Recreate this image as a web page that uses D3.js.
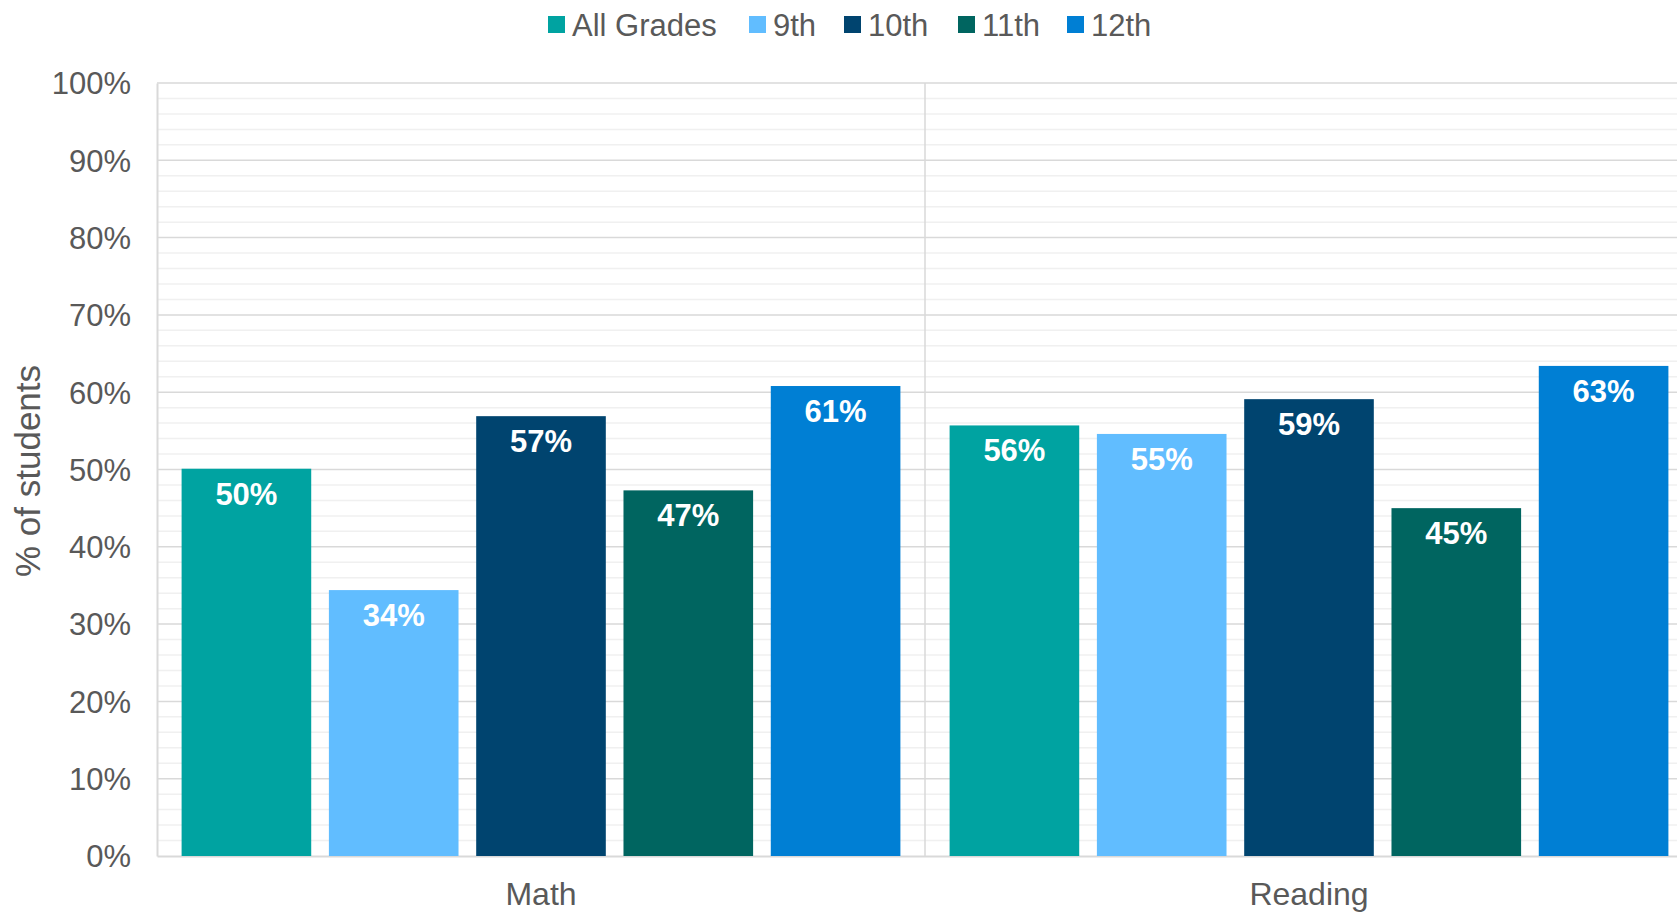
<!DOCTYPE html>
<html>
<head>
<meta charset="utf-8">
<script src="https://cdn.jsdelivr.net/npm/d3@7"></script>
<style>
  body { margin: 0; background: #fff; overflow: hidden; }
  text { font-family: "Liberation Sans", Arial, sans-serif; }
</style>
</head>
<body>
<svg id="chart"></svg>
<script>
const subjects = ["Math", "Reading"];
const grades = ["All Grades", "9th", "10th", "11th", "12th"];
const mathValues = [50.1, 34.4, 56.9, 47.3, 60.8];
const readingValues = [55.7, 54.6, 59.1, 45.0, 63.4];
const gradeColors = ["#00A3A1", "#61BDFF", "#00446F", "#006560", "#007FD4"];
const yTicks = [0, 10, 20, 30, 40, 50, 60, 70, 80, 90, 100];

const width = 1677, height = 913;
const margin = { left: 157, top: 83, bottom: 57 };
const plotW = 1536; // right part goes past the window, like the original
const plotH = height - margin.top - margin.bottom;

const svg = d3.select("#chart").attr("width", width).attr("height", height);

const data = subjects.map((s, i) => ({
  subject: s,
  values: i === 0 ? mathValues : readingValues
}));

let x0 = d3.scaleBand().domain(subjects).range([0, plotW]);
let x1 = d3.scaleBand().domain(grades).range([0, x0.bandwidth()])
  .paddingInner(0.12).paddingOuter(0.167);
let y = d3.scaleLinear().domain([0, 100]).range([plotH, 0]);

const g = svg.append("g").attr("transform", `translate(${margin.left},${margin.top})`);

// minor grid every 2%
g.append("g").selectAll("line")
  .data(d3.range(2, 100, 2).filter(v => v % 10 !== 0))
  .enter().append("line")
  .attr("x1", 0).attr("x2", plotW)
  .attr("y1", d => y(d)).attr("y2", d => y(d))
  .attr("stroke", "#F0F0F0").attr("stroke-width", 1.5);

// major grid
g.append("g").selectAll("line")
  .data(yTicks.slice(1))
  .enter().append("line")
  .attr("x1", 0).attr("x2", plotW)
  .attr("y1", d => y(d)).attr("y2", d => y(d))
  .attr("stroke", "#D9D9D9").attr("stroke-width", 1.5);

// category divider
g.append("line")
  .attr("x1", x0("Reading")).attr("x2", x0("Reading"))
  .attr("y1", 0).attr("y2", plotH)
  .attr("stroke", "#D9D9D9").attr("stroke-width", 1.5);

// y axis
let yAxis = d3.axisLeft(y).tickValues(yTicks).tickFormat(d => d + "%").tickSize(0).tickPadding(26);
const ya = g.append("g").call(yAxis);
ya.select(".domain").attr("stroke", "#D9D9D9").attr("stroke-width", 2);
ya.selectAll("text").attr("fill", "#595959").style("font-size", "31px").attr("dy", "0.35em");

// x axis
let xAxis = d3.axisBottom(x0).tickSize(0);
const xa = g.append("g").attr("transform", `translate(0,${plotH})`).call(xAxis);
xa.select(".domain").attr("stroke", "#D9D9D9").attr("stroke-width", 2);
xa.selectAll("text").attr("fill", "#595959").style("font-size", "32px")
  .attr("y", 49).attr("dy", 0);

// bars
const groups = g.selectAll(".grp")
  .data(data)
  .enter().append("g")
  .attr("transform", d => `translate(${x0(d.subject)},0)`);

groups.selectAll("rect")
  .data(d => d.values)
  .enter().append("rect")
  .attr("x", (d, i) => x1(grades[i]))
  .attr("y", d => y(d))
  .attr("width", x1.bandwidth())
  .attr("height", d => plotH - y(d))
  .attr("fill", (d, i) => gradeColors[i]);

groups.selectAll(".lbl")
  .data(d => d.values)
  .enter().append("text")
  .attr("x", (d, i) => x1(grades[i]) + x1.bandwidth() / 2)
  .attr("y", d => y(d) + 36)
  .attr("text-anchor", "middle")
  .attr("fill", "#fff")
  .style("font-size", "31px")
  .style("font-weight", "bold")
  .text(d => Math.round(d) + "%");

// y title
svg.append("text")
  .attr("transform", "translate(40,471) rotate(-90)")
  .attr("text-anchor", "middle")
  .attr("fill", "#595959")
  .style("font-size", "35px")
  .text("% of students");

// legend
const legendX = [548, 749, 844, 958, 1067];
const legend = svg.append("g").selectAll("g")
  .data(grades)
  .enter().append("g")
  .attr("transform", (d, i) => `translate(${legendX[i]},16)`);
legend.append("rect").attr("width", 17).attr("height", 17).attr("fill", (d, i) => gradeColors[i]);
legend.append("text")
  .attr("x", 24).attr("y", 20)
  .attr("fill", "#595959")
  .style("font-size", "31px")
  .text(d => d);
</script>
</body>
</html>
